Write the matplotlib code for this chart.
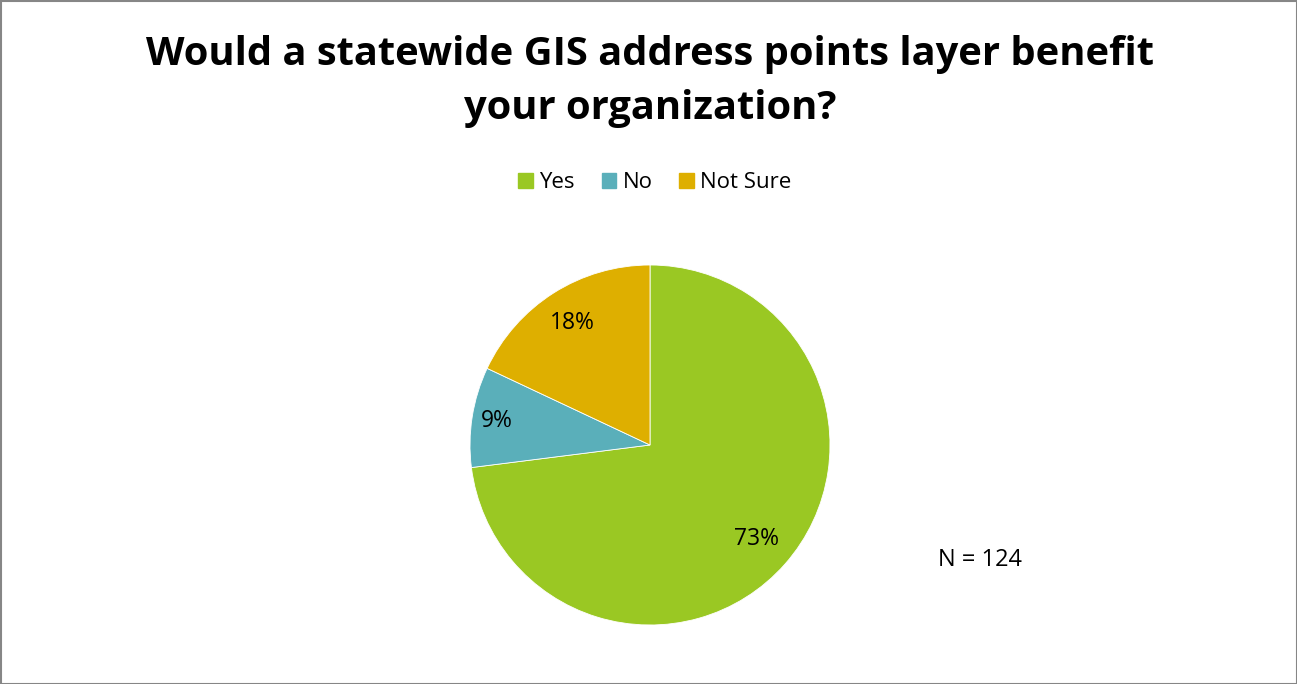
import matplotlib.pyplot as plt
import numpy as np
from matplotlib.patches import Rectangle

# survey answers, percent of respondents
answers = ['Yes', 'No', 'Not Sure']
shares = [73, 9, 18]
colors = ['#9AC823', '#5AAFBA', '#DEAF00']
n_total = 124

plt.rcParams['font.family'] = ['Open Sans', 'DejaVu Sans']

W, H = 1297, 684
fig = plt.figure(figsize=(W / 100, H / 100), dpi=100)

# pie centred at (650, 445) px, radius 180 px
ax = fig.add_axes([470 / W, 59 / H, 360 / W, 360 / H])
wedges, _ = ax.pie(shares, colors=colors, startangle=90, counterclock=False,
                   radius=1, wedgeprops=dict(edgecolor='white', linewidth=0.6))
ax.set_xlim(-1, 1)
ax.set_ylim(-1, 1)
ax.set_aspect('equal')
ax.axis('off')

# percentage labels inside each slice
label_r = [0.79, 0.86, 0.80]
for w, val, r in zip(wedges, shares, label_r):
    mid = np.deg2rad((w.theta1 + w.theta2) / 2)
    ax.text(r * np.cos(mid), r * np.sin(mid), '%d%%' % val,
            ha='center', va='center', fontsize=16.5, color='black')

fig.text(650 / W, 1 - 82 / H,
         'Would a statewide GIS address points layer benefit\nyour organization?',
         ha='center', va='center', fontsize=28.7, fontweight='bold', linespacing=1.5)

handles = [Rectangle((0, 0), 1, 1, color=c) for c in colors]
fig.legend(handles, answers, loc='center', bbox_to_anchor=(655 / W, 1 - 183 / H),
           ncol=3, frameon=False, fontsize=16, handlelength=0.65, handleheight=0.65,
           handletextpad=0.3, columnspacing=1.2)

fig.text(980 / W, 1 - 560 / H, 'N = %d' % n_total, ha='center', va='center', fontsize=17)

# chart area border
fig.patches.append(Rectangle((1 / W, 0.5 / H), 1 - 1 / W, 1 - 1.5 / H, transform=fig.transFigure,
                             fill=False, edgecolor='#868686', linewidth=1.5))

fig.savefig('out.png', dpi=100, facecolor='white')
